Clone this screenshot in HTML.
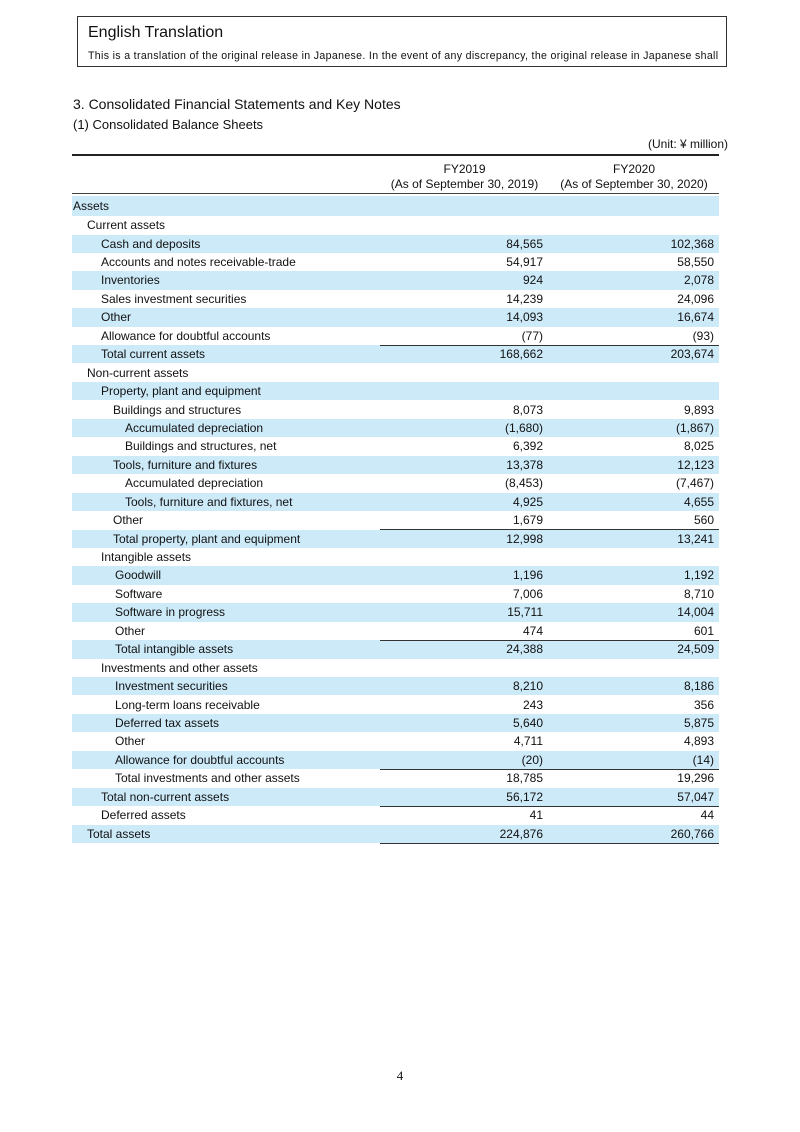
<!DOCTYPE html>
<html><head><meta charset="utf-8"><style>
body{margin:0;background:#fff;font-family:"Liberation Sans",Arial,sans-serif;color:#111;}
.pg{position:relative;width:800px;height:1132px;overflow:hidden;}
.box{position:absolute;left:77px;top:16px;width:650px;height:51px;border:1px solid #333;box-sizing:border-box;}
.r{position:absolute;left:72px;width:647px;height:18.4px;font-size:12px;line-height:18.4px;}
.s{background:#cdeaf9;}
.r span{position:absolute;}
.v1{right:176px;}
.v2{right:5px;}
.ln{position:absolute;left:380px;width:339px;border-top:1px solid #333;}
</style></head><body><div class="pg">
<div class="box">
<div style="position:absolute;left:10px;top:7px;font-size:16px;">English Translation</div>
<div style="position:absolute;left:10px;top:33px;font-size:10.6px;letter-spacing:0.33px;white-space:nowrap;">This is a translation of the original release in Japanese. In the event of any discrepancy, the original release in Japanese shall</div>
</div>
<div style="position:absolute;left:73px;top:96px;font-size:14px;">3. Consolidated Financial Statements and Key Notes</div>
<div style="position:absolute;left:73px;top:117px;font-size:13px;">(1) Consolidated Balance Sheets</div>
<div style="position:absolute;right:72px;top:137px;font-size:12px;">(Unit: ¥ million)</div>
<div style="position:absolute;left:72px;top:154px;width:647px;border-top:2px solid #222;"></div>
<div style="position:absolute;left:380px;width:169px;top:162px;font-size:12px;text-align:center;line-height:15px;">FY2019<br>(As of September 30, 2019)</div>
<div style="position:absolute;left:549px;width:170px;top:162px;font-size:12px;text-align:center;line-height:15px;">FY2020<br>(As of September 30, 2020)</div>
<div style="position:absolute;left:72px;top:193px;width:647px;border-top:1px solid #444;"></div>
<div class="r s" style="top:196px;height:20px;line-height:20px;"><span style="left:1px">Assets</span></div>
<div class="r" style="top:216px;"><span style="left:15px">Current assets</span></div>
<div id="rows"></div>
<div style="position:absolute;left:0;width:800px;top:1068px;text-align:center;font-family:'Liberation Serif',serif;font-size:13px;">4</div>
<script>
var d=[
[1,"Cash and deposits","84,565","102,368",1],
[1,"Accounts and notes receivable-trade","54,917","58,550",0],
[1,"Inventories","924","2,078",1],
[1,"Sales investment securities","14,239","24,096",0],
[1,"Other","14,093","16,674",1],
[1,"Allowance for doubtful accounts","(77)","(93)",0],
[1,"Total current assets","168,662","203,674",1,1],
[0.5,"Non-current assets","","",0],
[1,"Property, plant and equipment","","",1],
[2,"Buildings and structures","8,073","9,893",0],
[3,"Accumulated depreciation","(1,680)","(1,867)",1],
[3,"Buildings and structures, net","6,392","8,025",0],
[2,"Tools, furniture and fixtures","13,378","12,123",1],
[3,"Accumulated depreciation","(8,453)","(7,467)",0],
[3,"Tools, furniture and fixtures, net","4,925","4,655",1],
[2,"Other","1,679","560",0],
[2,"Total property, plant and equipment","12,998","13,241",1,1],
[1,"Intangible assets","","",0],
[2.5,"Goodwill","1,196","1,192",1],
[2.5,"Software","7,006","8,710",0],
[2.5,"Software in progress","15,711","14,004",1],
[2.5,"Other","474","601",0],
[2.5,"Total intangible assets","24,388","24,509",1,1],
[1,"Investments and other assets","","",0],
[2.5,"Investment securities","8,210","8,186",1],
[2.5,"Long-term loans receivable","243","356",0],
[2.5,"Deferred tax assets","5,640","5,875",1],
[2.5,"Other","4,711","4,893",0],
[2.5,"Allowance for doubtful accounts","(20)","(14)",1],
[2.5,"Total investments and other assets","18,785","19,296",0,1],
[1,"Total non-current assets","56,172","57,047",1],
[1,"Deferred assets","41","44",0,1],
[0,"Total assets","224,876","260,766",1]];
var ind={0:15,0.5:15,1:29,2:41,2.5:43,3:53};
var h="";
for(var i=0;i<d.length;i++){var r=d[i];var t=234.5+i*18.44;
var L=ind[r[0]];
h+='<div class="r'+(r[4]?' s':'')+'" style="top:'+t.toFixed(1)+'px"><span style="left:'+L+'px">'+r[1]+'</span><span class="v1">'+r[2]+'</span><span class="v2">'+r[3]+'</span></div>';
if(r[5])h+='<div class="ln" style="top:'+(t-0.5).toFixed(1)+'px"></div>';}
h+='<div class="ln" style="top:'+(234.5+33*18.44).toFixed(1)+'px"></div>';
document.getElementById("rows").outerHTML=h;
</script>
</div></body></html>
